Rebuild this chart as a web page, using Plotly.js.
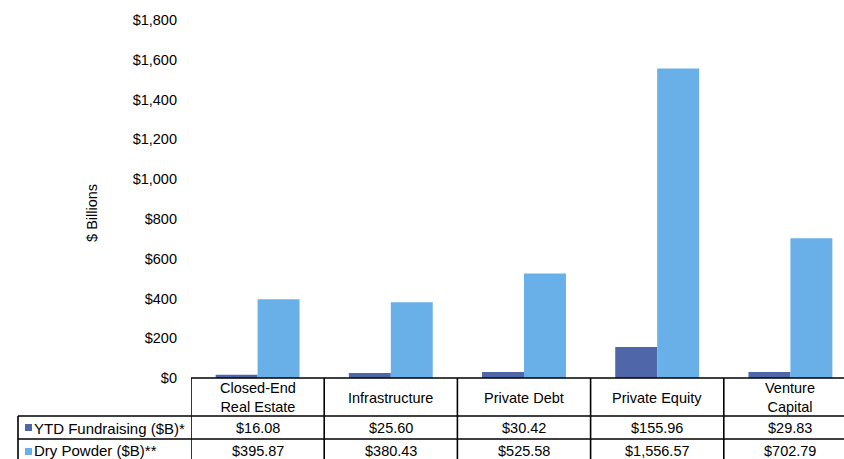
<!DOCTYPE html>
<html>
<head>
<meta charset="utf-8">
<script src="https://cdn.plot.ly/plotly-3.0.1.min.js"></script>
<style>
  html, body { margin: 0; padding: 0; overflow: hidden; background: #fff; }
  #chart { width: 857px; height: 459px; }
</style>
</head>
<body>
<div id="chart"></div>
<script>
// Fund categories and the two series shown as bars and in the data table
const categories = ["Closed-End<br>Real Estate", "Infrastructure", "Private Debt", "Private Equity", "Venture<br>Capital"];
const ytdFundraising = [16.08, 25.60, 30.42, 155.96, 29.83];
const dryPowder = [395.87, 380.43, 525.58, 1556.57, 702.79];
const seriesNames = ["YTD Fundraising ($B)*", "Dry Powder ($B)**"];
const seriesColors = ["#4f66a8", "#6ab0e8"];
const yTickValues = [0, 200, 400, 600, 800, 1000, 1200, 1400, 1600, 1800];

const FONT = "Liberation Sans, Arial, sans-serif";
const idx = categories.map((_, i) => i);
const fmt = v => "$" + v.toLocaleString("en-US", { minimumFractionDigits: 2, maximumFractionDigits: 2 });
const yTickText = yTickValues.map(v => "$" + v.toLocaleString("en-US"));

const traces = [
  { type: "bar", x: idx, y: ytdFundraising, name: seriesNames[0], marker: { color: seriesColors[0] }, hoverinfo: "skip" },
  { type: "bar", x: idx, y: dryPowder, name: seriesNames[1], marker: { color: seriesColors[1] }, hoverinfo: "skip" }
];

// Data table grid below the plot (pixel offsets from the zero line)
const lineStyle = { color: "#000", width: 1.6 };
const shapes = [];
const hLine = (yPx, xStartPx) => shapes.push({
  type: "line", xref: "paper", yref: "paper", xsizemode: "pixel", ysizemode: "pixel",
  xanchor: 0, yanchor: 0, x0: xStartPx, x1: 700, y0: yPx, y1: yPx, line: lineStyle
});
hLine(0, 0);
hLine(-38, -173);
hLine(-61, -173);
// left edge of the legend column
shapes.push({ type: "line", xref: "paper", yref: "paper", xsizemode: "pixel", ysizemode: "pixel",
  xanchor: 0, yanchor: 0, x0: -173, x1: -173, y0: -38, y1: -120, line: lineStyle });
// column separators at category boundaries
for (let k = 0; k <= categories.length; k++) {
  shapes.push({ type: "line", xref: "x", yref: "paper", ysizemode: "pixel", yanchor: 0,
    x0: k - 0.5, x1: k - 0.5, y0: 0, y1: -120, line: lineStyle });
}
// legend swatches
const swatchY = [[-46, -53], [-70, -77]];
seriesColors.forEach((c, s) => shapes.push({
  type: "rect", xref: "paper", yref: "paper", xsizemode: "pixel", ysizemode: "pixel",
  xanchor: 0, yanchor: 0, x0: -166, x1: -159, y0: swatchY[s][0], y1: swatchY[s][1],
  fillcolor: c, line: { width: 0 }
}));

const annotations = [];
const txtFont = { family: FONT, size: 14.5, color: "#000" };
const legFont = { family: FONT, size: 15, color: "#000" };
categories.forEach((c, i) => {
  annotations.push({ xref: "x", yref: "paper", x: i, y: 0, yshift: -19.5, text: c,
    showarrow: false, xanchor: "center", yanchor: "middle", font: txtFont });
  annotations.push({ xref: "x", yref: "paper", x: i, y: 0, yshift: -50, text: fmt(ytdFundraising[i]),
    showarrow: false, xanchor: "center", yanchor: "middle", font: txtFont });
  annotations.push({ xref: "x", yref: "paper", x: i, y: 0, yshift: -72.5, text: fmt(dryPowder[i]),
    showarrow: false, xanchor: "center", yanchor: "middle", font: txtFont });
});
[-50, -72.5].forEach((ys, s) => annotations.push({
  xref: "paper", yref: "paper", x: 0, y: 0, xshift: -159, yshift: ys, text: seriesNames[s],
  showarrow: false, xanchor: "left", yanchor: "middle", font: legFont
}));
// y-axis title
annotations.push({ xref: "paper", yref: "paper", x: 0, y: 0.461, xshift: -99, text: "$ Billions",
  textangle: -90, showarrow: false, xanchor: "center", yanchor: "middle", font: txtFont });

const layout = {
  width: 857, height: 459,
  margin: { l: 191, r: 0, t: 20, b: 81, pad: 0 },
  paper_bgcolor: "#fff", plot_bgcolor: "#fff",
  barmode: "group", bargap: 0.37, bargroupgap: 0,
  showlegend: false,
  font: { family: FONT, size: 14.5, color: "#000" },
  xaxis: { range: [-0.5, 4.5], showticklabels: false, showgrid: false, zeroline: false, showline: false, ticks: "", fixedrange: true },
  yaxis: { range: [0, 1800], tickmode: "array", tickvals: yTickValues, ticktext: yTickText,
    showgrid: false, zeroline: false, showline: false, ticks: "", ticklabelstandoff: 13,
    tickfont: { family: FONT, size: 14.5, color: "#000" }, fixedrange: true },
  shapes: shapes,
  annotations: annotations
};

Plotly.newPlot("chart", traces, layout, { displayModeBar: false, staticPlot: true });
</script>
</body>
</html>
